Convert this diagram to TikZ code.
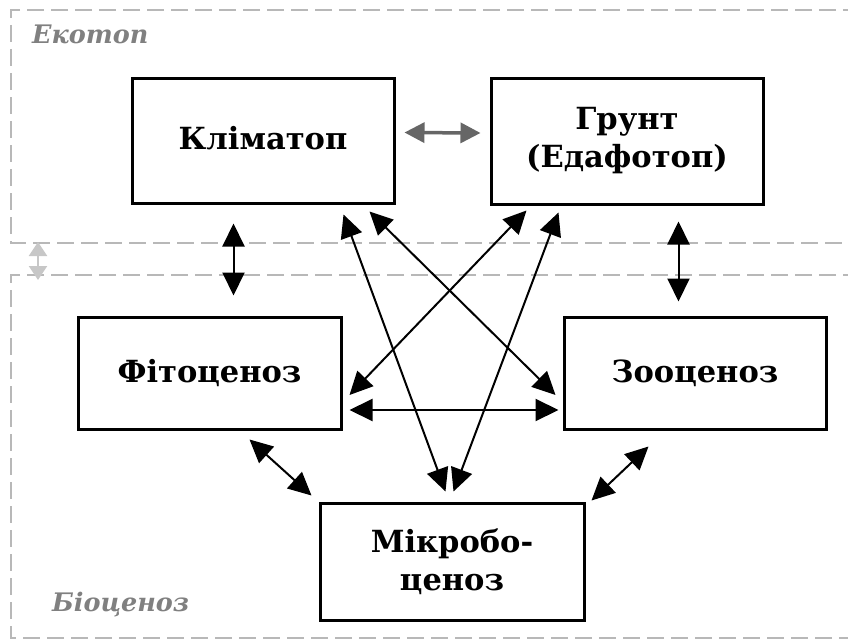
\documentclass[tikz,border=0pt]{standalone}
\usepackage{fontspec}
\setmainfont{DejaVu Serif}
\usetikzlibrary{arrows.meta,calc}
\begin{document}
\begin{tikzpicture}[x=1pt,y=-1pt,
  box/.style={draw=black,line width=3pt,fill=white,inner sep=0pt,align=center,font=\fontsize{30.5}{38}\selectfont\bfseries},
  zone/.style={draw=black!28,line width=1.6pt,dash pattern=on 17pt off 7pt},
  zonelabel/.style={text=black!50,font=\fontsize{25.5}{30}\selectfont\bfseries\itshape,anchor=base west,inner sep=0pt},
  link/.style={line width=2pt,{Triangle[length=23pt,width=22pt]}-{Triangle[length=23pt,width=22pt]}},
  glink/.style={draw=black!60,line width=3.5pt,{Triangle[length=20pt,width=20pt]}-{Triangle[length=20pt,width=20pt]}},
  llink/.style={draw=black!22,line width=2.5pt,{Triangle[length=14pt,width=18pt]}-{Triangle[length=14pt,width=18pt]}}
]
\useasboundingbox (0,0) rectangle (848,642);
\begin{scope}
\clip (0,0) rectangle (848,642);
\draw[zone] (860,10) -- (11,10) -- (11,243) -- (860,243);
\draw[zone] (860,275) -- (11,275) -- (11,638) -- (860,638);
\end{scope}
\node[zonelabel] (eko) at (32,44) {Екотоп};
\node[zonelabel] (bio) at (52,611) {Біоценоз};

\node[box,minimum width=262pt,minimum height=125pt] (klim) at (263,140.5) {\raisebox{5pt}{Кліматоп}};
\node[box,minimum width=272pt,minimum height=126pt] (grunt) at (627,141) {Грунт\\(Едафотоп)};
\node[box,minimum width=263pt,minimum height=112pt] (fito) at (209.5,373) {\raisebox{3pt}{Фітоценоз}};
\node[box,minimum width=262pt,minimum height=112pt] (zoo) at (695,373) {\raisebox{3pt}{Зооценоз}};
\node[box,minimum width=264pt,minimum height=117pt] (mikro) at (452,561.5) {Мікробо-\\ценоз};

% zone link
\coordinate (ekob) at (38,242);
\coordinate (biot) at (38,280);
\draw[llink] (ekob) -- (biot);

% gray link between klimatop and grunt
\draw[glink] ($(klim.east)+(9,-8)$) -- ($(grunt.west)+(-9,-8)$);

% vertical links
\draw[link] ($(klim.south west)+(103,19)$) -- ($(fito.north west)+(157,-20)$);
\draw[link] ($(grunt.south west)+(189,16)$) -- ($(zoo.north west)+(116,-14)$);

% diagonals
\draw[link] ($(klim.south east)+(-52,10)$) -- ($(mikro.north west)+(127,-10)$);
\draw[link] ($(klim.south east)+(-26,7)$) -- ($(zoo.west)+(-7,22)$);
\draw[link] ($(grunt.south west)+(37,5)$) -- ($(fito.east)+(7,22)$);
\draw[link] ($(grunt.south west)+(69,7)$) -- ($(mikro.north west)+(135,-10)$);

% horizontal
\draw[link] ($(fito.east)+(7,37)$) -- ($(zoo.west)+(-4,37)$);

% lower links
\draw[link] ($(fito.south east)+(-93,9)$) -- ($(mikro.north west)+(-7,-6)$);
\draw[link] ($(zoo.south west)+(86,16)$) -- ($(mikro.north east)+(6,-1)$);
\end{tikzpicture}
\end{document}
